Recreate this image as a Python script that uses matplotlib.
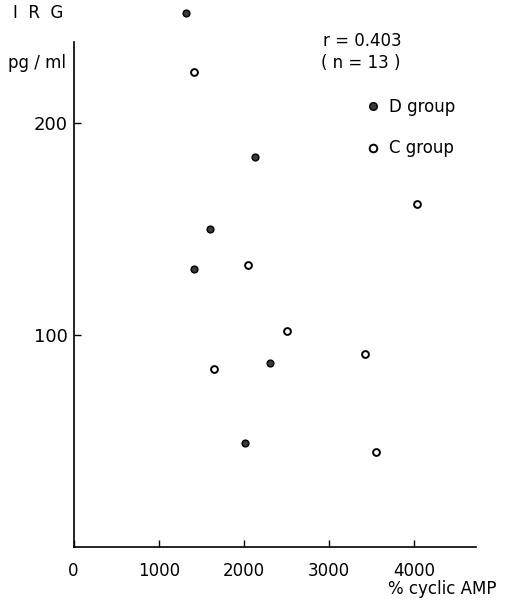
import matplotlib.pyplot as plt
from matplotlib.lines import Line2D

# D group (filled) and C group (open)
d_x = [1320, 2135, 1605, 1420, 2305, 2010]
d_y = [252, 184, 150, 131, 87, 49]
c_x = [1420, 4030, 2050, 2500, 3420, 1650, 3550]
c_y = [224, 162, 133, 102, 91, 84, 45]

xticks = [0, 1000, 2000, 3000, 4000]
yticks = [100, 200]

plt.rcParams['font.family'] = 'DejaVu Sans'

fig = plt.figure(figsize=(5.2, 6.02), dpi=100)
ax = fig.add_axes([73.5 / 520, 55 / 602, 402.5 / 520, 547 / 602])

ax.scatter(d_x, d_y, s=24, c='#3a3a3a', edgecolors='black', linewidths=1, clip_on=False, zorder=3)
ax.scatter(c_x, c_y, s=24, facecolors='white', edgecolors='black', linewidths=1.4, clip_on=False, zorder=3)

ax.set_xlim(0, 4724)
ax.set_ylim(0, 258)
ax.spines['top'].set_visible(False)
ax.spines['right'].set_visible(False)
ax.spines['left'].set_bounds(0, 238)
for s in ['left', 'bottom']:
    ax.spines[s].set_linewidth(1.2)

ax.set_xticks(xticks)
ax.set_yticks(yticks)
ax.tick_params(axis='both', direction='in', length=5, width=1, labelsize=12)
ax.tick_params(axis='x', pad=11)
ax.tick_params(axis='y', pad=4, labelsize=13)

fig.text(13 / 520, 1 - 13 / 602, "I  R  G", ha='left', va='center', fontsize=12)
fig.text(8 / 520, 1 - 63 / 602, "pg / ml", ha='left', va='center', fontsize=12)
fig.text(323 / 520, 1 - 41 / 602, "r = 0.403", ha='left', va='center', fontsize=12)
fig.text(321 / 520, 1 - 63 / 602, "( n = 13 )", ha='left', va='center', fontsize=12)
fig.text(388 / 520, 1 - 589 / 602, "% cyclic AMP", ha='left', va='center', fontsize=12)

handles = [
    Line2D([], [], linestyle='none', marker='o', markersize=5.5, markerfacecolor='#3a3a3a',
           markeredgecolor='black', markeredgewidth=1),
    Line2D([], [], linestyle='none', marker='o', markersize=5.5, markerfacecolor='white',
           markeredgecolor='black', markeredgewidth=1.4),
]
ax.legend(handles, ['D group', 'C group'], loc='upper left',
          bbox_to_anchor=(365 / 520, 1 - 98 / 602), bbox_transform=fig.transFigure,
          frameon=False, fontsize=12, labelspacing=1.4, handletextpad=0.45,
          handlelength=1.0, borderpad=0, borderaxespad=0)

fig.savefig('out.png', dpi=100)
